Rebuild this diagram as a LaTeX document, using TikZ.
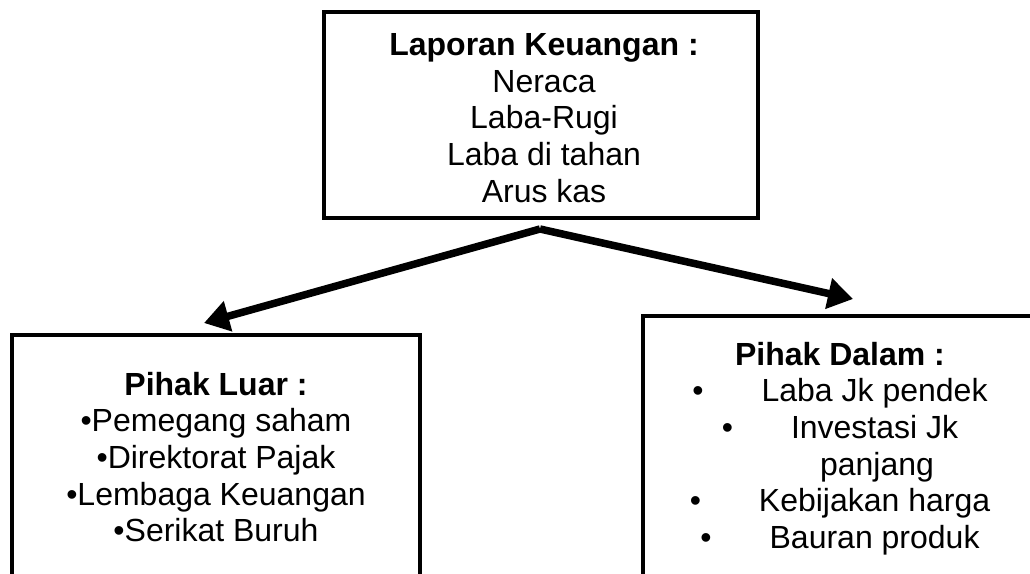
\documentclass[tikz,border=0pt]{standalone}
\usepackage{fontspec}
\setmainfont{Liberation Sans}
\usetikzlibrary{arrows.meta}
\begin{document}
\begin{tikzpicture}[x=1pt,y=-1pt,
  box/.style={draw, line width=4.5pt, rectangle, inner sep=0pt},
  txt/.style={align=center, inner sep=0pt, font=\fontsize{32}{36.7}\selectfont},
  conn/.style={line width=7.5pt, -{Triangle[length=25pt,width=30pt]}}]
\clip (0,0) rectangle (1030,573);
\fill[white] (0,0) rectangle (1030,573);
% boxes
\node[box, minimum width=434pt, minimum height=206pt] (top) at (541,115) {};
\node[box, minimum width=408pt, minimum height=285pt] (left) at (216,477.5) {};
\node[box, minimum width=427pt, minimum height=304pt] (right) at (856.5,468) {};
% texts
\node[txt] (toptxt) at (544,117.9) {\textbf{Laporan Keuangan :}\\Neraca\\Laba-Rugi\\Laba di tahan\\Arus kas};
\node[txt] (lefttxt) at (216,457) {\textbf{Pihak Luar :}\\•Pemegang saham\\•Direktorat Pajak\\•Lembaga Keuangan\\•Serikat Buruh};
\node[txt] (righttxt) at (840,448.6) {\textbf{Pihak Dalam :}\\•\hspace{58pt}Laba Jk pendek\\•\hspace{58pt}Investasi Jk\\\hspace*{74pt}panjang\\•\hspace{58pt}Kebijakan harga\\•\hspace{58pt}Bauran produk};
% connectors
\coordinate (apex) at (540,229);
\coordinate (ltip) at (204,323);
\coordinate (rtip) at (853,299);
\draw[conn] (apex) -- (ltip);
\draw[conn] (apex) -- (rtip);
\end{tikzpicture}
\end{document}
